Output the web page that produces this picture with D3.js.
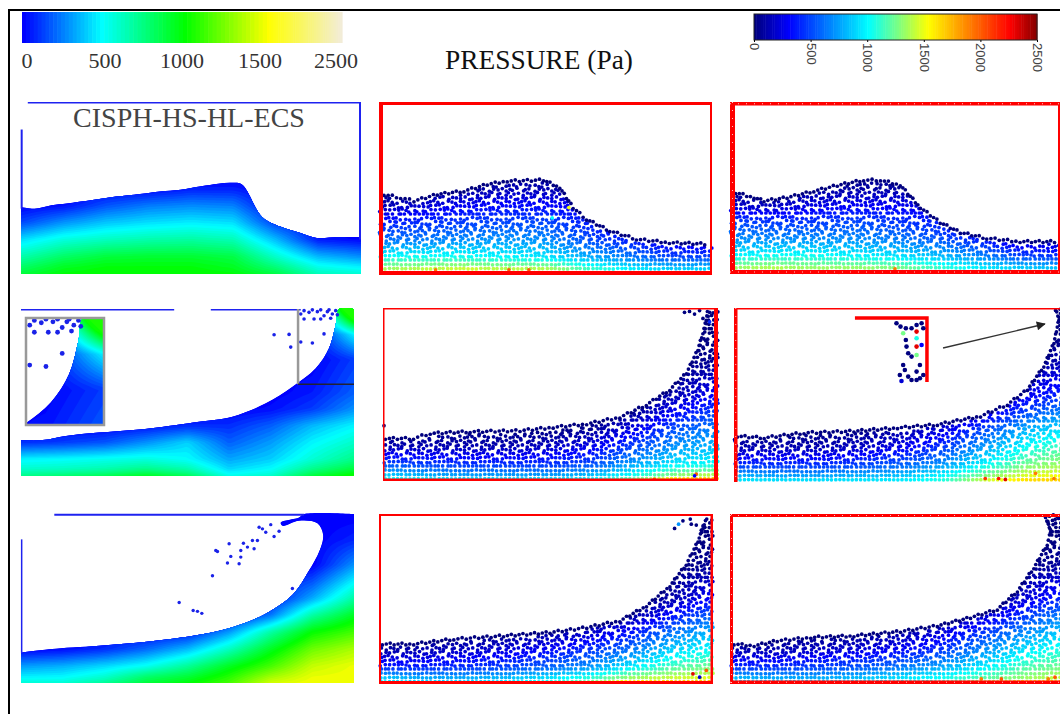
<!DOCTYPE html>
<html><head><meta charset="utf-8">
<script src="https://cdn.jsdelivr.net/npm/d3@7"></script>
<style>html,body{margin:0;background:#fff}svg{display:block}.soft{filter:blur(.35px)}</style></head>
<body><svg id="c" width="1060" height="714"></svg>
<script>
// ---- legends ----
const fieldTicks=[0,500,1000,1500,2500];
const fieldColors=["#0000ff","#00ffff","#00ff00","#ffff00","#f2ecdc"];
const jetTicks=[0,500,1000,1500,2000,2500];
const jetStops=[0,300,1000,1270,1530,2250,2500];
const jetColors=["#00007f","#0000ff","#00ffff","#7fff7f","#ffff00","#ff0000","#7f0000"];
const mainTitle="PRESSURE (Pa)";
const methodTitle="CISPH-HS-HL-ECS";
// ---- shared grid axes of the pressure tables (tank fraction) ----
const gridX=[0,.125,.25,.375,.5,.625,.75,.875,1];
const gridY=[0,.04,.1,.2,.3,.4,.5,.7,.85,1];
// ---- row 1 ----
const surfA=[[0,.39],[.04,.38],[.09,.40],[.135,.41],[.21,.43],[.28,.45],[.35,.465],[.41,.48],[.47,.49],[.53,.51],[.58,.525],[.62,.53],[.65,.52],[.71,.33],[.77,.27],[.82,.24],[.87,.21],[.93,.215],[1,.215]];
const pressA=[[900,1000,1020,1020,1020,1000,880,650,600],[820,950,1000,1000,1000,950,780,560,500],[680,820,900,920,920,880,620,380,300],[450,580,640,680,700,660,380,60,20],[150,300,400,450,480,450,130,0,0],[0,40,170,250,280,260,0,0,0],[0,0,0,0,60,60,0,0,0]];
const surfD=[[.015,.47],[.065,.452],[.105,.433],[.175,.471],[.255,.49],[.325,.529],[.385,.548],[.494,.554],[.543,.51],[.583,.394],[.623,.327],[.693,.26],[.773,.212],[.872,.192],[.99,.183]];
const pressD=[[1750,1800,1800,1750,1700,1450,1200,1050,1000],[1300,1350,1400,1350,1350,1100,950,850,850],[1050,1050,1050,1000,950,800,650,500,500],[620,650,700,730,700,520,380,200,150],[380,420,470,500,500,380,150,0,0],[120,200,280,320,320,240,50,0,0],[0,0,50,120,120,50,0,0,0]];
const oddD=[[.17,.03,1900],[.39,.03,2000],[.45,.03,2000],[.18,.01,2200],[.57,.39,1500],[.52,.33,1000]];
const surfE=[[.017,.478],[.073,.449],[.103,.43],[.173,.449],[.254,.487],[.325,.52],[.405,.551],[.456,.551],[.516,.522],[.577,.391],[.637,.304],[.698,.246],[.778,.213],[.879,.193],[.995,.193]];
const pressE=[[1600,1650,1600,1600,1500,1300,1100,1050,1000],[1300,1350,1300,1300,1250,1100,950,850,800],[1000,1050,1050,1000,950,850,700,500,450],[700,700,700,700,650,550,380,150,100],[500,450,450,500,450,380,120,0,0],[180,150,240,280,280,200,20,0,0],[0,0,50,80,80,20,0,0,0]];
const oddE=[[.19,.01,2200],[.22,.01,2000],[.33,.01,2100],[.5,.03,1900]];
// ---- row 2 ----
const surfB=[[0,.215],[.065,.215],[.135,.24],[.235,.26],[.385,.285],[.535,.325],[.635,.355],[.735,.435],[.815,.535],[.885,.645],[.925,.765],[.945,.905],[.955,1],[1,1]];
const pressB=[[750,800,850,950,850,560,620,900,1050],[620,640,680,750,680,440,520,750,900],[500,520,550,580,520,340,420,600,750],[100,130,180,300,430,200,320,500,620],[0,0,0,40,100,100,200,380,500],[0,0,0,0,0,0,40,130,300],[0,0,0,0,0,0,0,60,200],[0,0,0,0,0,0,0,0,130],[0,0,0,0,0,0,0,0,500],[0,0,0,0,0,0,0,0,1560]];
const capB=1050;
const dropsB=[[.76,.846],[.805,.848],[.81,.772],[.84,.802],[.875,.796],[.91,.851],[.84,.97],[.85,.94],[.865,.98],[.88,.94],[.89,.984],[.91,.96],[.92,.984],[.935,.97],[.85,.99],[.875,.995],[.90,.995],[.925,.995],[.945,.99],[.95,.965],[.90,.94],[.93,.945]];
const surfF=[[.007,.251],[.091,.251],[.141,.28],[.26,.29],[.409,.296],[.508,.315],[.608,.335],[.707,.373],[.786,.445],[.856,.532],[.906,.629],[.94,.764],[.955,.861],[.965,.938],[.97,1],[1,1]];
const pressF=[[1100,1050,1000,1000,1000,1050,1300,1700,1800],[850,750,700,700,700,800,1000,1250,1350],[500,450,420,420,420,500,750,950,1000],[120,120,120,120,170,260,480,720,820],[0,0,0,0,0,50,250,520,680],[0,0,0,0,0,0,50,300,480],[0,0,0,0,0,0,0,120,300],[0,0,0,0,0,0,0,0,50]];
const oddF=[[.935,.04,2000],[.93,.03,300],[.81,.01,2000],[.003,.32,0],[.90,.975,0],[.915,.98,0],[.93,.965,0],[.945,.985,0],[.955,.94,0],[.965,.91,0],[.975,.92,400]];
const surfG=[[.01,.268],[.09,.259],[.209,.287],[.358,.297],[.488,.316],[.607,.335],[.736,.383],[.816,.45],[.876,.536],[.925,.67],[.955,.805],[.97,.94],[.96,.996],[1,1]];
const pressG=[[1000,1000,1000,1000,1000,1100,1500,1700,1750],[780,720,720,770,820,980,1250,1450,1500],[420,420,420,470,560,720,1000,1250,1350],[120,120,120,170,260,450,750,1020,1170],[0,0,0,20,90,220,500,800,950],[0,0,0,0,0,20,200,500,700],[0,0,0,0,0,0,50,250,450],[0,0,0,0,0,0,0,50,120]];
const oddG=[[.75,.02,2100],[.79,.02,2200],[.81,.015,2300],[.90,.05,1900],[.955,.02,1900]];
const arrowG=[[.624,.77],[.928,.908]];
const insetFrameG=[[.361,.943],[.576,.943],[.576,.575]];
const insetDotsG=[[530,85,0],[542,95,0],[558,100,0],[575,100,0],[590,90,0],[605,85,0],[610,100,0],[550,115,1250],[590,130,1050],[590,110,2300],[605,150,300],[558,135,0],[560,155,0],[590,155,2300],[565,175,0],[575,185,0],[590,180,1250],[550,210,0],[555,225,0],[600,210,0],[590,230,0],[540,240,0],[565,245,0],[575,255,0],[600,250,0],[610,240,0],[545,258,200],[590,255,0]];
// ---- row 3 ----
const surfC=[[0,.18],[.085,.2],[.235,.22],[.385,.245],[.535,.285],[.635,.33],[.735,.41],[.815,.52],[.865,.665],[.90,.8],[.907,.88],[.89,.945],[.835,.96],[.785,.93],[.78,.95],[.835,.98],[.85,1],[1,1]];
const pressC=[[600,600,720,900,1000,1150,1430,1500,1500],[480,500,600,800,900,1080,1320,1470,1490],[320,360,440,540,720,950,1150,1400,1480],[0,30,100,220,380,640,950,1230,1350],[0,0,0,0,60,320,700,1020,1150],[0,0,0,0,0,0,250,700,950],[0,0,0,0,0,0,40,350,700],[0,0,0,0,0,0,0,0,300],[0,0,0,0,0,0,0,0,80]];
const dropsC=[[.475,.476],[.517,.429],[.53,.424],[.543,.412],[.575,.635],[.585,.784],[.59,.778],[.62,.71],[.625,.824],[.63,.749],[.655,.706],[.66,.745],[.66,.784],[.668,.827],[.68,.804],[.695,.843],[.70,.794],[.71,.843],[.715,.922],[.725,.912],[.735,.892],[.75,.937],[.76,.867],[.775,.898],[.815,.559]];
const surfH=[[.01,.24],[.104,.24],[.224,.269],[.373,.288],[.512,.308],[.622,.337],[.721,.376],[.801,.464],[.871,.581],[.92,.708],[.955,.844],[.97,.922],[.985,1],[1,1]];
const pressH=[[1000,950,950,1000,1100,1300,1700,1800,1850],[850,750,750,800,900,1050,1300,1400,1450],[380,380,420,470,560,700,950,1150,1250],[90,120,170,220,300,430,620,880,1020],[0,0,0,20,80,170,340,620,820],[0,0,0,0,0,0,70,340,580],[0,0,0,0,0,0,0,100,320],[0,0,0,0,0,0,0,0,60]];
const oddH=[[.94,.06,2300],[.98,.08,2000],[.96,.04,200],[.885,.915,0],[.897,.94,700],[.91,.96,0],[.932,.97,0],[.935,.94,0],[.95,.935,0],[.965,.905,0],[.97,.93,0]];
const surfI=[[.012,.24],[.072,.23],[.141,.259],[.241,.279],[.37,.288],[.509,.314],[.619,.347],[.718,.396],[.798,.444],[.858,.551],[.907,.688],[.947,.825],[.957,.903],[.942,.99],[1,1]];
const pressI=[[950,950,950,1000,1050,1150,1400,1600,1700],[800,750,750,800,900,1000,1150,1300,1400],[420,420,470,520,620,760,950,1150,1250],[120,120,170,220,300,430,680,930,1080],[0,0,0,20,90,210,440,680,880],[0,0,0,0,0,20,170,440,680],[0,0,0,0,0,0,20,200,430],[0,0,0,0,0,0,0,20,80]];
const oddI=[[.75,.03,1900],[.81,.03,2000],[.95,.03,1900],[.97,.04,2000]];

const svg=d3.select("#c");
const fieldScale=d3.scaleLinear().domain(fieldTicks).range(fieldColors);
const jetScale=d3.scaleLinear().domain(jetStops).range(jetColors);

function pressureAt(table,k,f){
  const ix=Math.min(gridX.length-2,Math.max(0,d3.bisectRight(gridX,k)-1));
  const iy=Math.min(gridY.length-2,Math.max(0,d3.bisectRight(gridY,f)-1));
  const row=j=>table[j]||gridX.map(()=>0);
  const u=(k-gridX[ix])/(gridX[ix+1]-gridX[ix]), v=(f-gridY[iy])/(gridY[iy+1]-gridY[iy]);
  const a=row(iy)[ix]*(1-u)+row(iy)[ix+1]*u, b=row(iy+1)[ix]*(1-u)+row(iy+1)[ix+1]*u;
  return a*(1-v)+b*v;
}
const closed=s=>s.concat([[1,s[s.length-1][1]],[1,0],[0,0],[0,s[0][1]]]);
let clipId=0;
function scales(b){return {sx:d3.scaleLinear().domain([0,1]).range([b[0],b[1]]),sy:d3.scaleLinear().domain([0,1]).range([b[3],b[2]])};}

function drawField(g,surf,table,sx,sy,drops,r,cap){
  const id="clip"+(clipId++);
  const curve=d3.line().x(d=>sx(d[0])).y(d=>sy(d[1])).curve(d3.curveCatmullRom.alpha(.5));
  const tail=[[1,surf[surf.length-1][1]],[1,0],[0,0],[0,surf[0][1]]];
  const outline=curve(surf)+tail.map(d=>`L${sx(d[0])},${sy(d[1])}`).join("")+"Z";
  svg.append("clipPath").attr("id",id).append("path").attr("d",outline);
  const nx=112,ny=60,vals=[];
  for(let j=0;j<ny;j++)for(let i=0;i<nx;i++){
    const p=pressureAt(table,i/(nx-1),1-j/(ny-1));
    vals.push(cap?Math.min(p,cap):p);
  }
  const thr=d3.range(0,2500,30);
  const contours=d3.contours().size([nx,ny]).smooth(true).thresholds(thr)(vals);
  const proj=d3.geoTransform({point(x,y){this.stream.point(sx((x-.5)/(nx-1)),sy(1-(y-.5)/(ny-1)));}});
  const path=d3.geoPath(proj);
  const inner=g.append("g").attr("clip-path",`url(#${id})`);
  inner.append("path").attr("d",outline).attr("fill",fieldColors[0]);
  inner.selectAll("path.band").data(contours).join("path").attr("class","band")
    .attr("d",path).attr("fill",d=>fieldScale(d.value));
  g.append("g").selectAll("circle").data(drops).join("circle")
    .attr("cx",d=>sx(d[0])).attr("cy",d=>sy(d[1])).attr("r",r).attr("fill","#1a22e8");
}

// lattice texture of the particle panels: a fixed table of small shifts in pixels
const latticeShift=[.9,-1.1,.3,-.5,1.2,-.9,.1,.7,-1.3,.5,-.2];
function particleList(surf,table,sx,sy){
  const poly=closed(surf),pts=[];
  const w=Math.abs(sx(1)-sx(0)),h=Math.abs(sy(1)-sy(0)),st=4.15;
  const nx=Math.ceil(w/st),ny=Math.ceil(h/st);
  for(let j=0;j<ny;j++)for(let i=0;i<nx;i++){
    const k=(i+.5)*st/w,f=(j*st+2.3)/h;
    const a=Math.min(1.2,f*7);
    const dk=a*latticeShift[(i*i+3*j+i*j)%11]/w;
    const df=a*latticeShift[(j*j+5*i+2*i*j)%11]/h;
    const K=k+dk,F=f+df;
    if(!d3.polygonContains(poly,[K,F])||!d3.polygonContains(poly,[K,F+3.4/h]))continue;
    pts.push([K,F,pressureAt(table,K,F)]);
  }
  for(let s=0;s<surf.length-1;s++){
    const a=surf[s],b=surf[s+1];
    if(a[1]===1&&b[1]===1)continue;
    const len=Math.hypot((b[0]-a[0])*w,(b[1]-a[1])*h),n=Math.max(1,Math.round(len/4));
    for(let t=0;t<n;t++){
      const u=t/n;
      pts.push([a[0]+(b[0]-a[0])*u,a[1]+(b[1]-a[1])*u-.8/h+((t%3)-1)*.9/h,0]);
    }
  }
  return pts;
}
function drawParticles(g,surf,table,odd,sx,sy){
  const pts=particleList(surf,table,sx,sy);
  g.append("g").attr("class","soft").selectAll("circle").data(pts.concat(odd)).join("circle")
    .attr("cx",d=>sx(d[0])).attr("cy",d=>sy(d[1])).attr("r",1.85)
    .attr("fill",d=>jetScale(d[2]));
}
function frame(g,b,widths,color,dotted){
  const [t,r,bt,l]=widths,[x0,x1,y0,y1]=b;
  const sides=[[x0,y0+t/2,x1,y0+t/2,t],[x1-r/2,y0,x1-r/2,y1,r],[x0,y1-bt/2,x1,y1-bt/2,bt],[x0+l/2,y0,x0+l/2,y1,l]];
  g.append("g").selectAll("line").data(sides.filter(d=>d[4]>0)).join("line")
    .attr("x1",d=>d[0]).attr("y1",d=>d[1]).attr("x2",d=>d[2]).attr("y2",d=>d[3])
    .attr("stroke",color).attr("stroke-width",d=>d[4]);
  if(dotted) g.append("g").selectAll("line").data(sides.filter(d=>d[4]>2.5)).join("line")
    .attr("x1",d=>d[0]).attr("y1",d=>d[1]).attr("x2",d=>d[2]).attr("y2",d=>d[3])
    .attr("stroke","#fff").attr("stroke-width",1).attr("stroke-dasharray","1 7").attr("opacity",.75);
}

// outer border
svg.append("path").attr("d","M9,714V10H1060").attr("fill","none").attr("stroke","#000").attr("stroke-width",2);

// left legend
const legX=d3.scaleLinear().domain(fieldTicks).range([22,100,183,267,342]);
const legLab=d3.scaleLinear().domain(fieldTicks).range([27,105,182,260,336]);
const legG=svg.append("g");
legG.selectAll("rect").data(d3.range(0,2500,25)).join("rect")
  .attr("x",d=>legX(d)).attr("y",12).attr("height",31).attr("width",d=>legX(d+25)-legX(d)+.6)
  .attr("fill",d=>fieldScale(d));
legG.selectAll("text").data(fieldTicks).join("text").attr("x",d=>legLab(d)).attr("y",68)
  .attr("text-anchor","middle").attr("font-family","Liberation Serif").attr("font-size",22).attr("fill","#333").text(d=>d);
svg.append("text").attr("x",539).attr("y",69).attr("text-anchor","middle")
  .attr("font-family","Liberation Serif").attr("font-size",27.4).attr("fill","#111").text(mainTitle);

// jet legend
const jetX=d3.scaleLinear().domain([0,2500]).range([754,1037]);
const jetG=svg.append("g");
jetG.selectAll("rect").data(d3.range(0,2500,20)).join("rect")
  .attr("x",d=>jetX(d)).attr("y",14).attr("height",26).attr("width",d=>jetX(d+20)-jetX(d)+.5).attr("fill",d=>jetScale(d));
jetG.append("rect").attr("x",754).attr("y",14).attr("width",283).attr("height",26).attr("fill","none").attr("stroke","#222").attr("stroke-width",1);
const jetAxis=svg.append("g").attr("transform","translate(0,40)").call(d3.axisBottom(jetX).tickValues(jetTicks).tickFormat(d=>d).tickSize(2));
jetAxis.select(".domain").remove();
jetAxis.selectAll("text").attr("transform","translate(0,3) rotate(90)").attr("text-anchor","start").attr("dx",0).attr("dy",".35em").attr("x",0).attr("y",0)
  .attr("font-family","Liberation Sans").attr("font-size",13).attr("fill","#444");

// field panels
const boxA=[21,361,102,274],boxB=[21,354,309,476],boxC=[21,354,514,683];
const boxD=[379,712,102,275],boxE=[730,1060,102,274],boxF=[383,718,308,481],boxG=[734,1069,308,482],boxH=[379,713,514,684],boxI=[730,1065,514,684];
const blue="#1e22f0";
function blueLines(g,sx,sy,rows){
  g.append("g").selectAll("line").data(rows).join("line")
   .attr("x1",d=>sx(d[0])).attr("y1",d=>sy(d[1])).attr("x2",d=>sx(d[2])).attr("y2",d=>sy(d[3]))
   .attr("stroke",blue).attr("stroke-width",d=>d[4]);
}
{ const {sx,sy}=scales(boxA),g=svg.append("g");
  drawField(g,surfA,pressA,sx,sy,[],0);
  blueLines(g,sx,sy,[[.02,.995,1,.995,1.5],[.997,1,.997,.2,2],[.002,.84,.002,.38,2]]);
  svg.append("text").attr("x",189).attr("y",127).attr("text-anchor","middle").attr("font-family","Liberation Serif")
    .attr("font-size",28).attr("fill","#444").text(methodTitle);
}
{ const {sx,sy}=scales(boxB),g=svg.append("g");
  drawField(g,surfB,pressB,sx,sy,dropsB,1.8,capB);
  blueLines(g,sx,sy,[[0,.995,.46,.995,1.5],[.57,.995,.84,.995,1.5]]);
  g.append("line").attr("x1",sx(.832)).attr("x2",sx(.832)).attr("y1",sy(1)).attr("y2",sy(.55)).attr("stroke","#999").attr("stroke-width",2.5);
  g.append("line").attr("x1",sx(.832)).attr("x2",sx(1)).attr("y1",sy(.55)).attr("y2",sy(.55)).attr("stroke","#223").attr("stroke-width",1.5);
  // enlarged view of the crest
  const ix=d3.scaleLinear().domain([.832,1]).range([26,104]),iy=d3.scaleLinear().domain([.55,1]).range([425,318]);
  const ig=svg.append("g"),cid="insetClip";
  svg.append("clipPath").attr("id",cid).append("rect").attr("x",26).attr("y",318).attr("width",78).attr("height",107);
  ig.append("rect").attr("x",26).attr("y",318).attr("width",78).attr("height",107).attr("fill","#fff");
  const ic=ig.append("g").attr("clip-path",`url(#${cid})`);
  drawField(ic,surfB,pressB,ix,iy,dropsB,2.4,capB);
  ig.append("rect").attr("x",26).attr("y",318).attr("width",78).attr("height",107).attr("fill","none").attr("stroke","#999").attr("stroke-width",2.5);
}
{ const {sx,sy}=scales(boxC),g=svg.append("g");
  drawField(g,surfC,pressC,sx,sy,dropsC,1.7);
  blueLines(g,sx,sy,[[.1,.995,.85,.995,2],[.002,.85,.002,.18,1.5]]);
}
// particle panels
const panels=[[boxD,surfD,pressD,oddD,[3,2,4,4],false],[boxE,surfE,pressE,oddE,[3.5,2,4,5],true],
 [boxF,surfF,pressF,oddF,[1.5,4,2.5,1.5],false],[boxG,surfG,pressG,oddG,[1.5,0,0,3.5],true],
 [boxH,surfH,pressH,oddH,[2,2.5,3,2],false],[boxI,surfI,pressI,oddI,[3,0,3.5,3],true]];
panels.forEach(p=>{
  const {sx,sy}=scales(p[0]),g=svg.append("g");
  drawParticles(g,p[1],p[2],p[3],sx,sy);
  frame(g,p[0],p[4],"#ff0000",p[5]);
});
// detail and arrow in panel G
{ const {sx,sy}=scales(boxG),g=svg.append("g");
  g.append("path").attr("d",d3.line().x(d=>sx(d[0])).y(d=>sy(d[1]))(insetFrameG)).attr("fill","none").attr("stroke","#ff0000").attr("stroke-width",3.5);
  const dx=d3.scaleLinear().domain([530,620]).range([sx(.485),sx(.575)]),dy=d3.scaleLinear().domain([260,70]).range([sy(.577),sy(.941)]);
  g.append("g").selectAll("circle").data(insetDotsG).join("circle").attr("cx",d=>dx(d[0])).attr("cy",d=>dy(d[1])).attr("r",2.3)
   .attr("fill",d=>jetScale(d[2]));
  const defs=svg.append("defs");
  defs.append("marker").attr("id","ah").attr("viewBox","0 0 10 10").attr("refX",9).attr("refY",5).attr("markerWidth",12).attr("markerHeight",9)
    .attr("markerUnits","userSpaceOnUse").attr("orient","auto").append("path").attr("d","M0,0L10,5L0,10Z").attr("fill","#222");
  g.append("path").attr("d",d3.line().x(d=>sx(d[0])).y(d=>sy(d[1]))(arrowG)).attr("stroke","#333").attr("stroke-width",1.4).attr("marker-end","url(#ah)");
}
</script></body></html>
